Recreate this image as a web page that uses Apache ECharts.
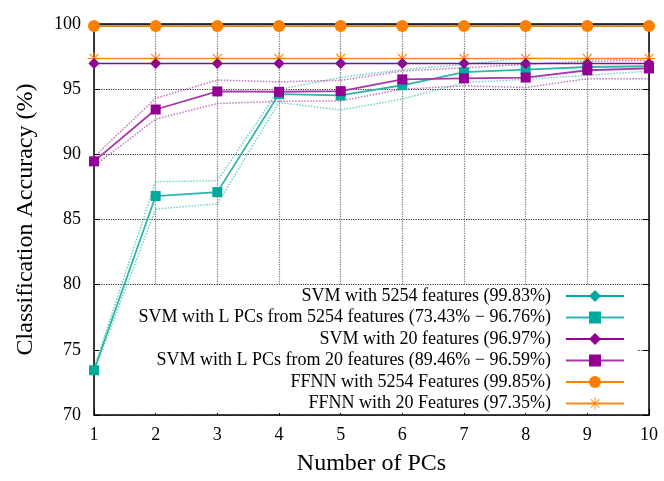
<!DOCTYPE html>
<html>
<head>
<meta charset="utf-8">
<script src="https://cdn.jsdelivr.net/npm/echarts@6/dist/echarts.min.js"></script>
<style>html,body{margin:0;padding:0;background:#fff}#c{width:664px;height:481px}</style>
</head>
<body>
<div id="c"></div>
<script>
var pcs = [1, 2, 3, 4, 5, 6, 7, 8, 9, 10];
var svm5254 = [99.83, 99.83, 99.83, 99.83, 99.83, 99.83, 99.83, 99.83, 99.83, 99.83];
var ffnn5254 = [99.85, 99.85, 99.85, 99.85, 99.85, 99.85, 99.85, 99.85, 99.85, 99.85];
var svm20 = [96.97, 96.97, 96.97, 96.97, 96.97, 96.97, 96.97, 96.97, 96.97, 96.97];
var ffnn20 = [97.35, 97.35, 97.35, 97.35, 97.35, 97.35, 97.35, 97.35, 97.35, 97.35];
var pc5254 = [73.43, 86.80, 87.10, 94.62, 94.52, 95.30, 96.30, 96.50, 96.70, 96.76];
var pc5254Hi = [73.60, 87.90, 87.97, 94.98, 95.90, 96.50, 96.90, 97.40, 97.30, 97.35];
var pc5254Lo = [73.30, 85.80, 86.20, 93.98, 93.40, 94.24, 95.50, 95.76, 96.06, 96.39];
var pc20 = [89.46, 93.44, 94.83, 94.80, 94.85, 95.75, 95.83, 95.89, 96.45, 96.59];
var pc20Hi = [89.80, 94.30, 95.70, 95.56, 95.68, 96.40, 96.64, 96.90, 97.15, 97.20];
var pc20Lo = [89.10, 92.70, 93.90, 94.07, 94.10, 95.00, 95.25, 95.13, 95.80, 95.80];
var yTicks = [70, 75, 80, 85, 90, 95, 100];
var names = [
  'SVM with 5254 features (99.83%)',
  'SVM with L PCs from 5254 features (73.43% \u2212 96.76%)',
  'SVM with 20 features (96.97%)',
  'SVM with L PCs from 20 features (89.46% \u2212 96.59%)',
  'FFNN with 5254 Features (99.85%)',
  'FFNN with 20 Features (97.35%)'
];

var TEAL = '#00a99d', PURPLE = '#940094', ORANGE = '#ff8000';
var FONT = '"Liberation Serif", "DejaVu Serif", serif';
var asterisk = 'path://M-0.8,-10L0.8,-10L0.8,10L-0.8,10Z M-10,-0.8L10,-0.8L10,0.8L-10,0.8Z M-7.6,-6.5L-6.5,-7.6L7.6,6.5L6.5,7.6Z M6.5,-7.6L7.6,-6.5L-6.5,7.6L-7.6,6.5Z';

function pairs(arr) { return pcs.map(function (x, i) { return [x, arr[i]]; }); }

function mainSeries(name, data, color, symbol, size, lineColor, lineWidth, z) {
  return {
    name: name, type: 'line', data: pairs(data), symbol: symbol, symbolSize: size,
    showAllSymbol: true, clip: false, z: z || 3,
    itemStyle: { color: color },
    lineStyle: { color: lineColor || color, width: lineWidth || 1.5 },
    emphasis: { disabled: true }, animation: false
  };
}
function bandSeries(data, color) {
  return {
    type: 'line', data: pairs(data), symbol: 'none', z: 2,
    lineStyle: { color: color, width: 1.5, type: 'dotted', opacity: 0.55 },
    emphasis: { disabled: true }, animation: false, silent: true
  };
}

var axisCommon = {
  axisLine: { show: true, onZero: false, lineStyle: { color: '#000', width: 1.5 } },
  axisTick: { show: true, inside: true, length: 6, lineStyle: { color: '#000', width: 1 } }
};

var option = {
  backgroundColor: '#fff',
  animation: false,
  grid: { left: 94, right: 15, top: 24, bottom: 62, containLabel: false },
  xAxis: [
    Object.assign({
      type: 'value', min: 1, max: 10, interval: 1, position: 'bottom',
      axisLabel: { fontSize: 18, fontFamily: FONT, color: '#000', margin: 11 },
      splitLine: { show: true, lineStyle: { color: '#777', type: 'dotted', width: 1.2 } },
      name: 'Number of PCs', nameLocation: 'middle', nameGap: 37,
      nameTextStyle: { fontSize: 24, fontFamily: FONT, color: '#000' }
    }, axisCommon),
    Object.assign({
      type: 'value', min: 1, max: 10, interval: 1, position: 'top',
      axisLabel: { show: false }, splitLine: { show: false }
    }, axisCommon)
  ],
  yAxis: [
    Object.assign({
      type: 'value', min: 70, max: 100, interval: 5, position: 'left',
      axisLabel: { fontSize: 18, fontFamily: FONT, color: '#000', margin: 13,
        formatter: function (v) { return yTicks.indexOf(v) >= 0 ? String(v) : ''; } },
      splitLine: { show: true, lineStyle: { color: '#333', type: 'dotted', width: 1.2 } },
      name: 'Classification Accuracy (%)', nameLocation: 'middle', nameGap: 56,
      nameTextStyle: { fontSize: 24, fontFamily: FONT, color: '#000' }
    }, axisCommon),
    Object.assign({
      type: 'value', min: 70, max: 100, interval: 5, position: 'right',
      axisLabel: { show: false }, splitLine: { show: false }
    }, axisCommon)
  ],
  graphic: [{
    type: 'rect', z: 1, silent: true,
    shape: { x: 99, y: 285, width: 538, height: 128 },
    style: { fill: '#fff' }
  }],
  legend: {
    data: names, orient: 'vertical', right: 34, top: 281, align: 'right',
    itemWidth: 58, itemHeight: 15, itemGap: 1.5, selectedMode: false,
    textStyle: { fontSize: 18, fontFamily: FONT, color: '#000', lineHeight: 20, padding: [0, 10, 0, 0] }
  },
  series: [
    bandSeries(pc5254Hi, TEAL), bandSeries(pc5254Lo, TEAL),
    bandSeries(pc20Hi, PURPLE), bandSeries(pc20Lo, PURPLE),
    mainSeries(names[0], svm5254, TEAL, 'diamond', 11, TEAL, 1.5, 3),
    mainSeries(names[1], pc5254, TEAL, 'rect', 10, '#2db5aa', 1.8, 3),
    mainSeries(names[2], svm20, PURPLE, 'diamond', 11, PURPLE, 1.5, 3),
    mainSeries(names[3], pc20, PURPLE, 'rect', 10, '#a636aa', 1.8, 4),
    mainSeries(names[4], ffnn5254, ORANGE, 'circle', 12, ORANGE, 1.5, 5),
    mainSeries(names[5], ffnn20, ORANGE, asterisk, 13, '#ff8c1a', 1.5, 2)
  ]
};
var chart = echarts.init(document.getElementById('c'), null, { renderer: 'canvas' });
chart.setOption(option);
</script>
</body>
</html>
